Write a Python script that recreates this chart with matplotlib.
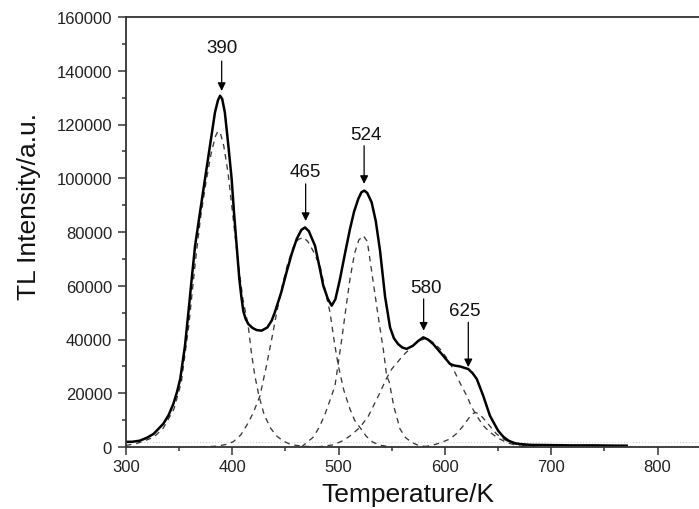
"""TL glow curve with deconvoluted peaks."""
import matplotlib.pyplot as plt
from matplotlib.ticker import MultipleLocator

plt.rcParams['font.family'] = ['Liberation Sans', 'DejaVu Sans']

# measured glow curve (solid)
total_T = [300, 306, 313, 320, 326, 335, 340, 344.5, 348, 351, 355.5, 358.7,
           361.8, 365, 369.6, 374.3, 379, 383.7, 386.5, 388.5, 390.5, 393,
           396.3, 399.4, 401.6, 404.1, 406.6, 408.5, 410.4, 412.5, 415, 419,
           423, 427.6, 433, 437, 440, 446, 451, 456, 460.6, 465, 468.4, 472,
           477.8, 482, 485.6, 490, 493.5, 497, 501.3, 506, 510.7, 514.5,
           518.5, 521.5, 524.2, 527, 531.1, 535, 539, 543.7, 548.4, 552, 556,
           560, 564, 570, 575, 579.7, 584, 589, 597, 604.8, 609, 614, 622,
           626, 630, 636, 642.4, 650, 655, 660, 666, 671, 680, 700, 720, 740,
           760, 771]
total_I = [1900, 1950, 2350, 3500, 4900, 8600, 11800, 16000, 20500, 25300,
           37700, 50100, 62500, 74900, 87300, 99700, 112100, 124500, 129000,
           130700, 129500, 124500, 112100, 99700, 87300, 74900, 62500, 56000,
           50500, 47700, 45800, 44300, 43500, 43300, 44500, 47000, 50100,
           57500, 65000, 72000, 77400, 80800, 81700, 80300, 74900, 67000,
           60000, 55000, 52600, 55000, 62500, 72000, 81100, 87500, 92300,
           94800, 95400, 94500, 91000, 84000, 73000, 56000, 44500, 40500,
           38300, 37000, 36500, 37700, 39500, 40800, 40000, 38300, 34600,
           30900, 30300, 30000, 29000, 27500, 25300, 19100, 11600, 6100, 3800,
           2300, 1400, 1100, 800, 700, 600, 600, 500, 500]

# fitted components (dashed)
p1_T = [300, 310, 320, 326, 335, 345, 352, 359, 365, 370, 375, 380, 384,
        386.5, 389, 392, 396, 400, 405, 410, 415, 418, 421, 425, 430, 436,
        442, 448, 454, 460, 470, 480]
p1_I = [600, 1300, 2700, 3600, 7000, 14000, 24000, 45000, 68000, 85000,
        98000, 109000, 115500, 117500, 116500, 112000, 102000, 88000, 70000,
        55000, 45000, 35000, 27000, 19100, 12000, 7000, 4000, 2200, 1100, 600,
        200, 0]
p2_T = [370, 385, 395, 401, 408, 415, 420, 426, 432, 437, 441.8, 447, 452,
        457, 462, 466.8, 471, 476, 482.5, 487, 491.9, 496, 499.7, 505, 510.7,
        515, 520, 526, 532.6, 540, 550]
p2_I = [0, 300, 1000, 2000, 4500, 9000, 13000, 19000, 30000, 40000, 50100,
        60000, 68000, 74000, 77200, 78000, 76500, 73000, 67500, 59000, 50100,
        39000, 30300, 21000, 14100, 10000, 7300, 4000, 1700, 600, 0]
p3_T = [465, 476, 482, 487, 492, 496.6, 500, 503, 507, 510.7, 515, 519, 523.3,
        527, 532.6, 536, 539, 542, 545.2, 547.7, 552, 557.8, 563, 568.8, 575,
        585]
p3_I = [0, 3600, 7500, 12000, 17500, 22800, 32000, 40200, 52000, 62500, 72000,
        77000, 78600, 76500, 61300, 52000, 44000, 36500, 26500, 24100, 15000,
        6700, 3500, 1700, 600, 0]
p4_T = [480, 495, 505, 512, 520.1, 528, 533, 539, 545, 550, 557.8, 563, 567.2,
        572, 577, 581.3, 586, 590, 595.4, 601, 607.9, 614, 620.5, 625, 629.9,
        636, 642.4, 650, 658, 666, 675]
p4_I = [0, 800, 2500, 4500, 7300, 11500, 15500, 20300, 25500, 29000, 32700,
        35000, 36500, 38500, 39800, 40200, 39700, 38500, 36500, 33500, 29000,
        24000, 19100, 15000, 11600, 8000, 5500, 3300, 1700, 700, 0]
p5_T = [580, 592.3, 598, 604.8, 611, 617.3, 622, 625, 628.3, 632, 635.5,
        639.3, 644, 648.7, 655, 661.2, 667, 673.7, 685]
p5_I = [0, 1100, 1900, 3000, 5000, 7900, 10500, 12000, 12900, 12300, 11000,
        9200, 7000, 4800, 3000, 1700, 1000, 500, 0]

baseline = 2000

# peak labels with their arrows (start and tip) and text positions
peak_labels = ['390', '465', '524', '580', '625']
arrow_x = [390, 469, 524, 580, 622]
arrow_y0 = [143600, 97900, 112100, 55100, 46400]
arrow_y1 = [132500, 84100, 97900, 43300, 29700]
text_x = [390, 469, 526, 582, 619]
text_y = [148500, 102500, 116300, 59400, 50700]

fig = plt.figure(figsize=(6.99, 5.10), dpi=100)
ax = fig.add_axes([126 / 699, 62 / 510, 573 / 699, 430 / 510])

ax.plot([300, 840], [baseline, baseline], color='#d4d4d4', lw=0.8, ls=':')
for T, I in [(p1_T, p1_I), (p2_T, p2_I), (p3_T, p3_I), (p4_T, p4_I), (p5_T, p5_I)]:
    ax.plot(T, I, color='#3a3a3a', lw=0.95, ls=(0, (4.2, 3.6)))
ax.plot(total_T, total_I, color='black', lw=1.8, solid_joinstyle='round')

for lab, ax_x, y0, y1, tx, ty in zip(peak_labels, arrow_x, arrow_y0, arrow_y1, text_x, text_y):
    ax.annotate('', xy=(ax_x, y1), xytext=(ax_x, y0),
                arrowprops=dict(arrowstyle='-|>', color='black', lw=0.9,
                                mutation_scale=12, shrinkA=0, shrinkB=0))
    ax.text(tx, ty, lab, ha='center', va='center', fontsize=13.5, color='#111111')

ax.set_xlim(300, 300 + 573 / 1.063)
ax.set_ylim(0, 160000)
ax.xaxis.set_major_locator(MultipleLocator(100))
ax.xaxis.set_minor_locator(MultipleLocator(50))
ax.yaxis.set_major_locator(MultipleLocator(20000))
ax.yaxis.set_minor_locator(MultipleLocator(10000))
ax.tick_params(which='both', direction='out', color='#333333', width=1.1,
               labelsize=12, labelcolor='#222222')
ax.tick_params(which='major', length=6)
ax.tick_params(which='minor', length=3)
ax.tick_params(axis='y', pad=4)
ax.tick_params(axis='x', pad=3)
ax.spines['right'].set_visible(False)
for side in ['left', 'bottom', 'top']:
    ax.spines[side].set_color('#333333')
    ax.spines[side].set_linewidth(1.3)

fig.text(407.5 / 699, (510 - 502) / 510, 'Temperature/K', ha='center',
         va='baseline', fontsize=19, color='#111111')
fig.text(36 / 699, (510 - 207) / 510, 'TL Intensity/a.u.', rotation=90,
         rotation_mode='anchor', ha='center', va='baseline', fontsize=19,
         color='#111111')

fig.savefig('out.png', dpi=100)
